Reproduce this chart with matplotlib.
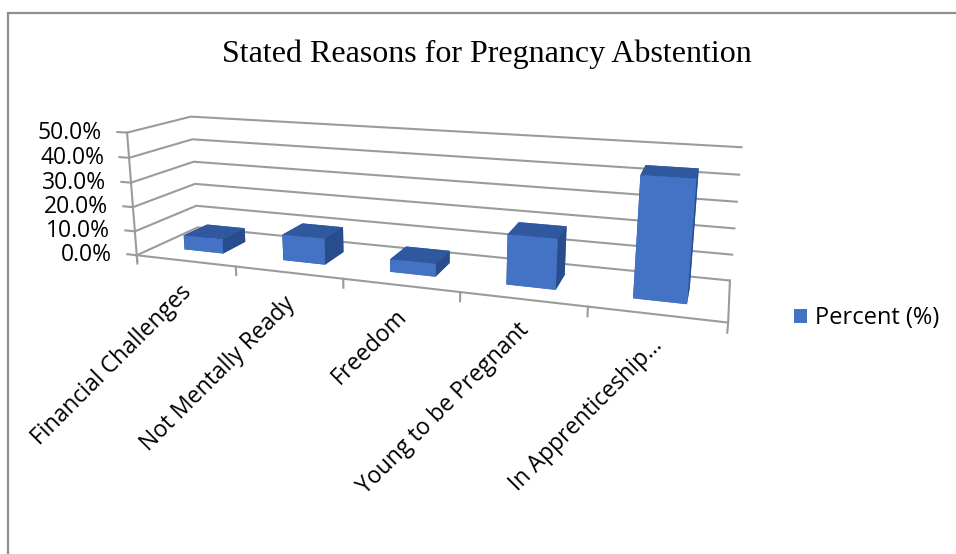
import matplotlib
matplotlib.use("Agg")
import matplotlib.pyplot as plt
from matplotlib.patches import Patch, Rectangle
from mpl_toolkits.mplot3d import proj3d

# ---- data -------------------------------------------------------------
categories = ["Financial Challenges", "Not Mentally Ready", "Freedom",
              "Young to be Pregnant", "In Apprenticeship\u2026"]
percent = [6.0, 10.5, 5.0, 19.0, 44.0]
value_ticks = [0, 10, 20, 30, 40, 50]
value_tick_labels = ["0.0%", "10.0%", "20.0%", "30.0%", "40.0%", "50.0%"]
series_name = "Percent (%)"
chart_title = "Stated Reasons for Pregnancy Abstention"

# ---- style ------------------------------------------------------------
label_font = "Open Sans"
title_font = "Liberation Serif"
grid_color = "#9b9b9b"
front_color = "#4472C4"
top_color = "#30589F"
side_color = "#294C8C"

fig = plt.figure(figsize=(9.56, 5.54), dpi=100)

# chart frame (only top and left edges fall inside the image)
fig.add_artist(Rectangle((7.5 / 956, -0.1), 1.2, 1.1 - 12.5 / 554,
                         transform=fig.transFigure, fill=False,
                         edgecolor="#8e8e8e", lw=1.6, clip_on=False))

fig.text(487 / 956, 1 - 54 / 554, chart_title, family=title_font,
         fontsize=23, ha="center", va="center")

cx, cy, side = 415, 210, 400
ax = fig.add_axes([(cx - side / 2) / 956, (554 - cy - side / 2) / 554,
                   side / 956, side / 554], projection="3d",
                  computed_zorder=False)
ax.set_axis_off()
n = len(categories)
x0, x1 = 0, n
y0, y1 = 0.0, 1.0
zmax = value_ticks[-1]
ax.set_xlim(x0, x1)
ax.set_ylim(y0, y1)
ax.set_zlim(0, zmax)
ax.set_box_aspect((680, 134, 150), zoom=1.51)
ax.set_proj_type("persp", focal_length=0.42)
ax.view_init(elev=14, azim=-71)

line_kw = dict(color=grid_color, lw=1.5, clip_on=False)

# walls: horizontal gridlines on left and back walls
for z in value_ticks:
    ax.plot([x0, x0, x1], [y0, y1, y1], [z, z, z], zorder=1, **line_kw)
# floor front and right edges
ax.plot([x0, x1, x1], [y0, y0, y1], [0, 0, 0], zorder=2, **line_kw)
# value axis line with outward tick marks
ax.plot([x0, x0], [y0, y0], [-2.5, zmax], zorder=2, **line_kw)
for z in value_ticks:
    ax.plot([x0 - 0.1, x0], [y0, y0], [z, z], zorder=2, **line_kw)
# category boundary tick marks
for i in range(n + 1):
    ax.plot([i, i], [y0, y0], [0, -3.5], zorder=2, **line_kw)

# bars
bar_w = 0.4
bar_d = 0.4
xs = [i + (1 - bar_w) / 2 for i in range(n)]
face_colors = []
for _ in range(n):
    # face order: bottom, top, front, back, left, right
    face_colors += [front_color, top_color, front_color, front_color,
                    side_color, side_color]
bars = ax.bar3d(xs, [(1 - bar_d) / 2] * n, [0] * n, bar_w, bar_d, percent,
                color=face_colors, shade=False, zorder=3, edgecolor="none")
bars.set_clip_on(False)

# text placed at projected positions
M = ax.get_proj()


def projected(x, y, z):
    px, py, _ = proj3d.proj_transform(x, y, z, M)
    return px, py


for z, lab in zip(value_ticks, value_tick_labels):
    ax.annotate(lab, xy=projected(x0, y0, z), xytext=(-18, 0),
                textcoords="offset points", ha="right", va="center",
                family=label_font, fontsize=16.5, annotation_clip=False)

for i, lab in enumerate(categories):
    ax.annotate(lab, xy=projected(i + 0.5, y0, 0), xytext=(-4, -14),
                textcoords="offset points", ha="right", va="top",
                rotation=45, rotation_mode="anchor",
                family=label_font, fontsize=16.5, annotation_clip=False)

fig.legend(handles=[Patch(facecolor=front_color, label=series_name)],
           loc="center left", bbox_to_anchor=(794 / 956, 1 - 318 / 554),
           frameon=False, prop={"family": label_font, "size": 17},
           handlelength=0.55, handleheight=0.55, handletextpad=0.35,
           borderpad=0, borderaxespad=0)

fig.savefig("out.png", dpi=100)
